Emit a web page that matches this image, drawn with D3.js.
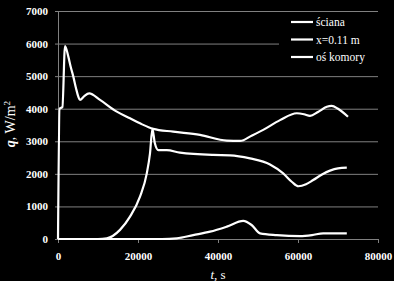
<!DOCTYPE html>
<html>
<head>
<meta charset="utf-8">
<script src="https://cdn.jsdelivr.net/npm/d3@7"></script>
<style>
  html, body { margin: 0; padding: 0; background: #000; }
  svg { display: block; }
</style>
</head>
<body>
<div id="chart"></div>
<script>
// dane: strumień ciepła q [W/m2] w funkcji czasu t [s]
var wallT = [0, 400, 1100, 1750, 2580, 3170, 3830, 4500, 5080, 5500, 6500, 7800, 10500, 14700, 18000, 20500, 23800, 28800, 35500, 42200, 45500, 48500, 51300, 55500, 59700, 61500, 63000, 65000, 67200, 68400, 70000, 72500];
var wallQ = [0, 4000, 4050, 5920, 5600, 5290, 4985, 4630, 4370, 4270, 4380, 4470, 4270, 3910, 3705, 3550, 3380, 3295, 3195, 3020, 3010, 3180, 3350, 3650, 3860, 3830, 3780, 3900, 4060, 4085, 4000, 3755];

var midT = [0, 10000, 12200, 15500, 18000, 20500, 22200, 23000, 23600, 24200, 25100, 27200, 30500, 38800, 43000, 48000, 53000, 56300, 58500, 60100, 62000, 63800, 66000, 68000, 70000, 72200];
var midQ = [0, 0, 20, 280, 685, 1300, 2015, 2630, 3380, 2950, 2730, 2730, 2650, 2580, 2570, 2475, 2290, 2015, 1750, 1620, 1680, 1810, 1980, 2100, 2170, 2190];

var axisT = [0, 26000, 29700, 33800, 38000, 42200, 46300, 48400, 50500, 54700, 60500, 63500, 66300, 72200];
var axisQ = [0, 0, 20, 120, 225, 380, 555, 430, 175, 120, 90, 120, 175, 175];

var seriesNames = ["ściana", "x=0.11 m", "oś komory"];
var xTicks = [0, 20000, 40000, 60000, 80000];
var yTicks = [0, 1000, 2000, 3000, 4000, 5000, 6000, 7000];

var W = 394, H = 281;
var mLeft = 58, mRight = 378, mTop = 11, mBottom = 239;
var gray = "#808080";

var svg = d3.select("#chart").append("svg")
  .attr("width", W)
  .attr("height", H)
  .style("background", "#000");

var x = d3.scaleLinear().domain([0, 80000]).range([mLeft, mRight]);
var y = d3.scaleLinear().domain([0, 7000]).range([mBottom, mTop]);

// siatka
var grid = svg.append("g")
  .attr("transform", "translate(" + mLeft + ",0)")
  .call(d3.axisLeft(y).tickValues(yTicks.slice(1)).tickSize(-(mRight - mLeft)).tickFormat(""));
grid.select(".domain").remove();
grid.selectAll("line").attr("stroke", gray).attr("stroke-width", 1);

// oś y
var yAxis = svg.append("g")
  .attr("transform", "translate(" + mLeft + ",0)")
  .call(d3.axisLeft(y).tickValues(yTicks).tickSize(3).tickPadding(7).tickFormat(d3.format("d")));
yAxis.select(".domain").attr("stroke", gray);
yAxis.selectAll("line").attr("stroke", gray);
yAxis.selectAll("text")
  .attr("fill", "#fff")
  .style("font-family", "'Liberation Serif', 'Times New Roman', serif")
  .style("font-weight", "bold")
  .style("font-size", "11px");

// oś x
var xAxis = svg.append("g")
  .attr("transform", "translate(0," + mBottom + ")")
  .call(d3.axisBottom(x).tickValues(xTicks).tickSize(4).tickPadding(9).tickFormat(d3.format("d")));
xAxis.select(".domain").attr("stroke", gray);
xAxis.selectAll("line").attr("stroke", gray);
xAxis.selectAll("text")
  .attr("fill", "#fff")
  .style("font-family", "'Liberation Serif', 'Times New Roman', serif")
  .style("font-weight", "bold")
  .style("font-size", "11px");

// legenda - czarne tło zasłania linię siatki
svg.append("rect")
  .attr("x", 279).attr("y", 13)
  .attr("width", 99).attr("height", 58)
  .attr("fill", "#000");

// linie danych
var series = [
  d3.zip(wallT, wallQ),
  d3.zip(midT, midQ),
  d3.zip(axisT, axisQ)
];

var line = d3.line()
  .x(function(d) { return x(d[0]); })
  .y(function(d) { return y(d[1]); })
  .curve(d3.curveMonotoneX);

svg.selectAll(".series")
  .data(series)
  .enter()
  .append("path")
  .attr("class", "series")
  .attr("d", line)
  .attr("fill", "none")
  .attr("stroke", "#fff")
  .attr("stroke-width", 2.2)
  .attr("stroke-linejoin", "round");

var leg = svg.selectAll(".leg")
  .data(seriesNames)
  .enter()
  .append("g")
  .attr("class", "leg")
  .attr("transform", function(d, i) { return "translate(291," + (22 + i * 17.5) + ")"; });

leg.append("line")
  .attr("x1", 0).attr("x2", 22)
  .attr("y1", 0).attr("y2", 0)
  .attr("stroke", "#fff")
  .attr("stroke-width", 2.2);

leg.append("text")
  .attr("x", 25)
  .attr("y", 4)
  .attr("fill", "#fff")
  .style("font-family", "'Liberation Serif', 'Times New Roman', serif")
  .style("font-size", "11.5px")
  .text(function(d) { return d; });

// tytuły osi
var xt = svg.append("text")
  .attr("x", 218)
  .attr("y", 279)
  .attr("text-anchor", "middle")
  .attr("fill", "#fff")
  .style("font-family", "'Liberation Serif', 'Times New Roman', serif")
  .style("font-size", "13px");
xt.append("tspan").style("font-style", "italic").text("t");
xt.append("tspan").text(", s");

var yt = svg.append("text")
  .attr("transform", "translate(15,124) rotate(-90)")
  .attr("text-anchor", "middle")
  .attr("fill", "#fff")
  .style("font-family", "'Liberation Serif', 'Times New Roman', serif")
  .style("font-size", "14px");
yt.append("tspan").style("font-style", "italic").style("font-weight", "bold").text("q");
yt.append("tspan").text(", W/m");
yt.append("tspan").attr("dy", -5).style("font-size", "9px").text("2");
</script>
</body>
</html>
